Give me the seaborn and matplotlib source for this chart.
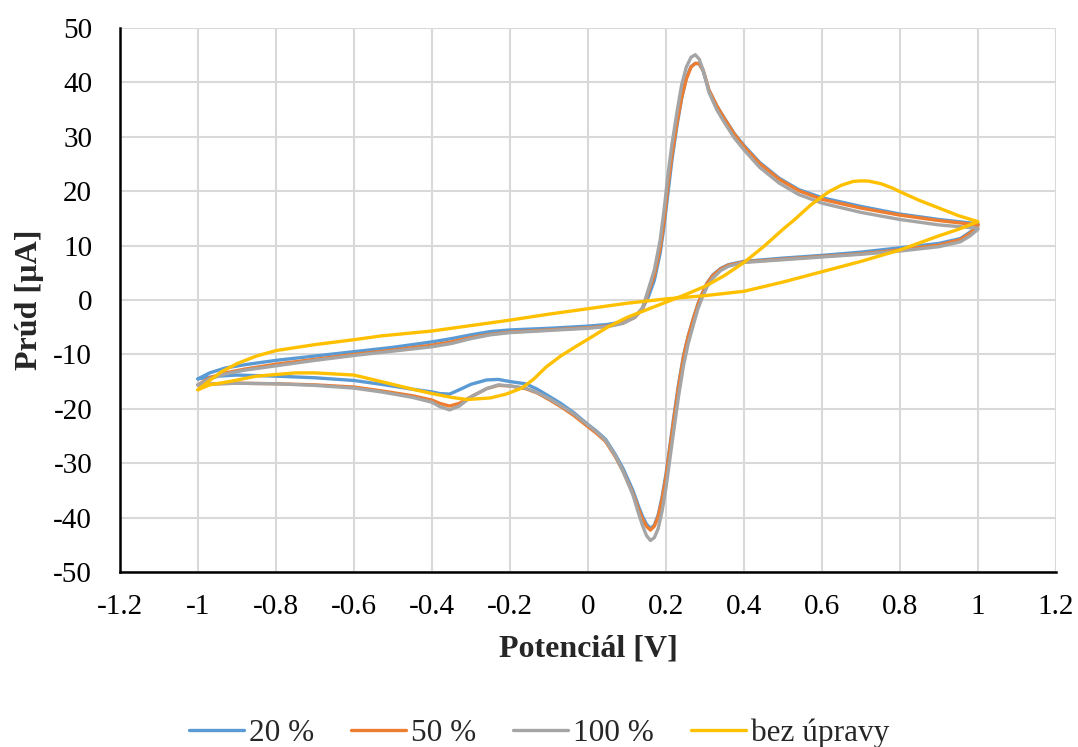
import matplotlib
matplotlib.use('Agg')
import matplotlib.pyplot as plt
import seaborn as sns
import pandas as pd
from matplotlib.ticker import FuncFormatter, MultipleLocator

# Potenciál [V] - společná osa pro upravené vzorky (dopředný + zpětný scan)
cv_x = [-1.00, -0.97, -0.93, -0.88, -0.80, -0.70, -0.60, -0.50, -0.40, -0.35, -0.30, -0.25,
        -0.20, -0.10, 0.00, 0.05, 0.09, 0.12, 0.14, 0.155, 0.17, 0.185, 0.195, 0.205,
        0.215, 0.228, 0.24, 0.252, 0.264, 0.275, 0.285, 0.295, 0.31, 0.33, 0.35, 0.375,
        0.40, 0.44, 0.49, 0.54, 0.60, 0.70, 0.80, 0.90, 1.00,
        1.00, 0.98, 0.955, 0.90, 0.80, 0.70, 0.60, 0.50, 0.40, 0.36, 0.34, 0.32, 0.305,
        0.292, 0.282, 0.27, 0.257, 0.245, 0.232, 0.22, 0.21, 0.20, 0.19, 0.18, 0.17,
        0.16, 0.15, 0.14, 0.13, 0.115, 0.09, 0.07, 0.045, 0.02, 0.00, -0.035, -0.07,
        -0.10, -0.13, -0.16, -0.20, -0.23, -0.26, -0.30, -0.33, -0.355, -0.38, -0.40,
        -0.45, -0.53, -0.60, -0.70, -0.80, -0.90, -0.95, -1.00]

# Prúd [µA]
i_20 = [-14.5, -13.4, -12.5, -11.9, -11.1, -10.3, -9.5, -8.7, -7.7, -7.1, -6.4, -5.8,
        -5.5, -5.2, -4.8, -4.5, -4.0, -3.1, -1.5, 0.6, 3.6, 8.6, 13.6, 19.6,
        25.6, 32.0, 37.0, 40.8, 42.9, 43.5, 43.4, 42.2, 38.6, 35.7, 33.4, 30.6,
        28.4, 25.3, 22.4, 20.3, 18.8, 17.2, 15.8, 14.8, 14.0,
        13.8, 12.5, 11.3, 10.4, 9.6, 8.8, 8.2, 7.7, 7.1, 6.5, 5.8, 4.6, 3.1,
        1.1, -0.7, -3.4, -6.6, -10.2, -15.6, -21.5, -26.8, -32.0, -36.2, -39.5, -41.4,
        -42.0, -41.2, -39.8, -38.0, -35.0, -31.0, -28.4, -25.6, -24.0, -22.9, -20.8, -19.0,
        -17.7, -16.4, -15.4, -15.0, -14.6, -14.7, -15.5, -16.5, -17.3, -17.2, -16.9,
        -16.4, -15.5, -14.8, -14.3, -14.0, -13.8, -14.0, -14.5]

i_50 = [-15.6, -14.3, -13.4, -12.7, -11.8, -10.9, -10.0, -9.2, -8.3, -7.7, -6.9, -6.3,
        -5.9, -5.5, -5.1, -4.8, -4.2, -3.2, -1.6, 1.5, 4.5, 9.5, 14.5, 21.0,
        26.5, 32.5, 37.2, 40.6, 42.8, 43.5, 43.5, 42.3, 38.6, 35.7, 33.3, 30.5,
        28.2, 25.1, 22.2, 20.1, 18.5, 16.9, 15.6, 14.6, 13.8,
        13.7, 12.3, 11.1, 10.1, 9.2, 8.5, 8.0, 7.5, 7.0, 6.4, 5.7, 4.5, 3.0,
        1.0, -0.8, -3.5, -6.7, -10.4, -16.0, -22.0, -27.2, -32.5, -36.6, -39.8, -41.6,
        -42.3, -41.6, -40.3, -38.5, -35.5, -31.5, -28.8, -26.0, -24.4, -23.3, -21.3, -19.6,
        -18.3, -17.1, -16.3, -15.8, -15.7, -16.3, -17.8, -19.0, -19.5, -19.0, -18.4,
        -17.6, -16.7, -16.0, -15.6, -15.4, -15.3, -15.4, -15.6]

i_100 = [-15.6, -14.5, -13.6, -12.9, -12.1, -11.1, -10.2, -9.4, -8.6, -8.0, -7.1, -6.4,
         -6.0, -5.6, -5.2, -4.9, -4.3, -3.2, -1.4, 2.0, 5.5, 11.0, 16.5, 23.0,
         28.5, 34.5, 39.5, 42.8, 44.6, 45.1, 44.3, 42.3, 38.2, 35.0, 32.6, 29.8,
         27.6, 24.4, 21.5, 19.4, 17.8, 16.1, 14.8, 13.8, 13.2,
         13.0, 11.8, 10.7, 9.8, 9.0, 8.4, 7.9, 7.4, 6.9, 6.2, 5.4, 4.0, 2.4,
         0.3, -1.6, -4.6, -8.0, -12.0, -17.8, -24.0, -29.2, -34.5, -38.8, -42.0, -43.7,
         -44.2, -43.3, -41.5, -39.3, -35.8, -31.5, -28.6, -25.8, -24.1, -23.0, -21.0, -19.4,
         -18.1, -17.0, -16.2, -15.8, -15.6, -16.3, -17.8, -19.5, -20.2, -19.6, -18.8,
         -17.9, -16.9, -16.2, -15.7, -15.4, -15.3, -15.4, -15.6]

# bez úpravy - vlastní osa potenciálu
raw_x = [-1.00, -0.97, -0.92, -0.85, -0.75, -0.70, -0.60, -0.53, -0.45, -0.40, -0.35, -0.31,
         -0.25, -0.21, -0.17, -0.14, -0.107, -0.07, -0.03, 0.00, 0.05, 0.10, 0.15, 0.20,
         0.25, 0.30, 0.35, 0.40, 0.45, 0.50, 0.53, 0.57, 0.60, 0.62, 0.65, 0.68, 0.70,
         0.72, 0.75, 0.78, 0.80, 0.85, 0.90, 0.95, 1.00,
         0.95, 0.90, 0.80, 0.70, 0.60, 0.50, 0.40, 0.30, 0.20, 0.10, 0.00, -0.10, -0.20,
         -0.30, -0.40, -0.53, -0.60, -0.70, -0.80, -0.85, -0.90, -0.94, -0.97, -1.00]
raw_i = [-16.5, -15.6, -15.0, -14.0, -13.4, -13.4, -13.8, -15.0, -16.4, -17.2, -17.9, -18.3,
         -18.0, -17.3, -16.2, -14.6, -12.3, -10.3, -8.5, -7.2, -5.0, -3.2, -1.8, -0.4,
         1.0, 2.5, 4.5, 6.9, 9.8, 13.0, 14.8, 17.4, 19.0, 20.0, 21.1, 21.8, 21.9,
         21.85, 21.4, 20.6, 19.9, 18.3, 16.9, 15.5, 14.4,
         13.0, 11.8, 9.2, 7.1, 5.2, 3.3, 1.6, 0.8, 0.2, -0.6, -1.6, -2.6, -3.7,
         -4.7, -5.7, -6.6, -7.3, -8.2, -9.3, -10.3, -11.7, -13.2, -14.8, -16.5]

labels = ['20 %', '50 %', '100 %', 'bez úpravy']
colors = ['#5B9BD5', '#ED7D31', '#A5A5A5', '#FFC000']

frames = []
for lab, xs, ys in zip(labels, [cv_x, cv_x, cv_x, raw_x], [i_20, i_50, i_100, raw_i]):
    frames.append(pd.DataFrame({'E': xs, 'I': ys, 'serie': lab, 'poradi': range(len(xs))}))
df = pd.concat(frames, ignore_index=True)

sns.set_style('white')
plt.rcParams['font.family'] = ['Liberation Serif', 'DejaVu Serif']
plt.rcParams['axes.unicode_minus'] = False

fig = plt.figure(figsize=(10.78, 7.47), dpi=100)
ax = fig.add_axes([0.1113, 0.2343, 0.8683, 0.7282])

sns.lineplot(data=df, x='E', y='I', hue='serie', hue_order=labels, palette=colors,
             sort=False, estimator=None, linewidth=2.4, ax=ax)

ax.set_xlim(-1.2, 1.2)
ax.set_ylim(-50, 50)
ax.xaxis.set_major_locator(MultipleLocator(0.2))
ax.yaxis.set_major_locator(MultipleLocator(10))


def fmt(v, pos):
    v = round(v, 1)
    if v == 0:
        return '0'
    return f'{v:g}'


ax.xaxis.set_major_formatter(FuncFormatter(fmt))
ax.grid(True, color='#d9d9d9', linewidth=1.5)
ax.set_axisbelow(True)
for s in ['top', 'right']:
    ax.spines[s].set_visible(False)
for s in ['left', 'bottom']:
    ax.spines[s].set_color('black')
    ax.spines[s].set_linewidth(1.8)
ax.tick_params(axis='both', direction='in', length=6, width=1.8, colors='black', labelsize=21)
ax.tick_params(axis='y', pad=20)
ax.tick_params(axis='x', pad=16)

ax.set_xlabel('Potenciál [V]', fontsize=23, fontweight='bold', labelpad=10)
ax.set_ylabel('Prúd [µA]', fontsize=23, fontweight='bold', labelpad=7)

handles, labs = ax.get_legend_handles_labels()
ax.get_legend().remove()
fig.legend(handles, labs, loc='center', bbox_to_anchor=(0.5, 1 - 733 / 747), ncol=4,
           frameon=False, fontsize=22.5, handlelength=1.75, handletextpad=0.15,
           columnspacing=1.2)

fig.savefig('out.png', dpi=100)
